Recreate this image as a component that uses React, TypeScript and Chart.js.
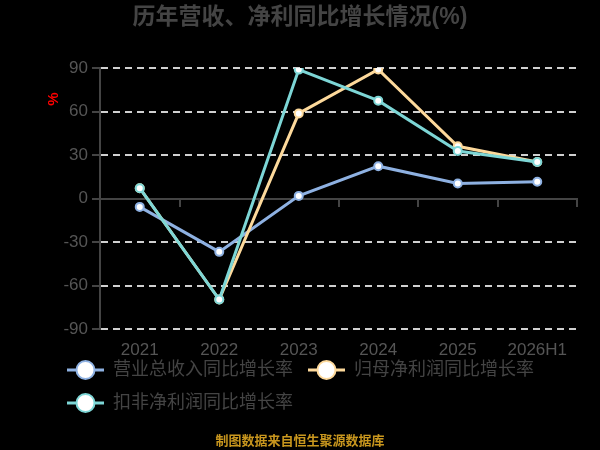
import React, { useEffect, useRef } from 'react';
import { Chart, registerables } from 'chart.js';

Chart.register(...registerables);

const FONT = '"Liberation Sans", "Noto Sans CJK SC", sans-serif';
Chart.defaults.font.family = FONT;

const chartTitle = '历年营收、净利同比增长情况(%)';
const footerText = '制图数据来自恒生聚源数据库';
const yAxisUnit = '%';

const categories = ['2021', '2022', '2023', '2024', '2025', '2026H1'];
const seriesNames = ['营业总收入同比增长率', '归母净利润同比增长率', '扣非净利润同比增长率'];
const revenueGrowth = [-5.8, -36.8, 1.8, 22.3, 10.3, 11.5];
const netProfitGrowth = [7.1, -69.7, 58.7, 89.0, 36.0, 25.2];
const deductedProfitGrowth = [7.1, -69.7, 88.9, 67.5, 32.8, 25.2];
const yTicks = [-90, -60, -30, 0, 30, 60, 90];

const seriesColors = ['#8eb1e2', '#fdd99b', '#7dd6d6'];

function makeLegendIcon(color: string): HTMLCanvasElement {
  const c = document.createElement('canvas');
  c.width = 37;
  c.height = 22;
  const g = c.getContext('2d')!;
  g.strokeStyle = color;
  g.lineWidth = 3;
  g.beginPath();
  g.moveTo(0, 11);
  g.lineTo(37, 11);
  g.stroke();
  g.beginPath();
  g.arc(18.5, 11, 9, 0, Math.PI * 2);
  g.fillStyle = '#ffffff';
  g.fill();
  g.lineWidth = 2;
  g.stroke();
  return c;
}

const overlayPlugin = {
  id: 'overlayTexts',
  afterDraw(chart: any) {
    const { ctx, chartArea, width, height } = chart;
    ctx.save();
    ctx.textAlign = 'center';
    ctx.textBaseline = 'middle';
    // title
    ctx.fillStyle = '#444444';
    ctx.font = `bold 23px ${FONT}`;
    ctx.fillText(chartTitle, width / 2, 18);
    // footer
    ctx.fillStyle = '#c8961e';
    ctx.font = `bold 13px ${FONT}`;
    ctx.fillText(footerText, width / 2, height - 9);
    // y unit
    ctx.translate(chartArea.left - 46, chartArea.top + 31);
    ctx.rotate(-Math.PI / 2);
    ctx.fillStyle = '#ff0000';
    ctx.font = `bold 15px ${FONT}`;
    ctx.fillText(yAxisUnit, 0, 0);
    ctx.restore();
  },
};

export default function App() {
  const ref = useRef<HTMLCanvasElement | null>(null);

  useEffect(() => {
    if (!ref.current) return;
    const values = [revenueGrowth, netProfitGrowth, deductedProfitGrowth];
    const icons = seriesColors.map(makeLegendIcon);
    const chart = new Chart(ref.current, {
      type: 'line',
      data: {
        labels: categories,
        datasets: values.map((d, i) => ({
          label: seriesNames[i],
          data: d,
          borderColor: seriesColors[i],
          backgroundColor: seriesColors[i],
          borderWidth: 3,
          pointRadius: 4,
          pointBorderWidth: 2,
          pointBackgroundColor: '#ffffff',
          pointBorderColor: seriesColors[i],
          tension: 0,
          order: 3 - i,
          xAxisID: 'x',
          yAxisID: 'y',
        })),
      },
      options: {
        animation: false,
        responsive: false,
        maintainAspectRatio: false,
        layout: { padding: { top: 68, left: 52, right: 23, bottom: 28 } },
        plugins: {
          title: { display: false },
          tooltip: { enabled: false },
          legend: {
            display: true,
            position: 'bottom',
            align: 'start',
            title: { display: true, text: '', padding: { top: 16, bottom: 0 }, font: { size: 1, lineHeight: 1 } },
            labels: {
              usePointStyle: true,
              pointStyleWidth: 37,
              boxHeight: 18,
              padding: 15,
              color: '#444444',
              font: { size: 18, family: FONT },
              generateLabels: (c: any) =>
                c.data.datasets.map((ds: any, i: number) => ({
                  text: ds.label,
                  fillStyle: seriesColors[i],
                  strokeStyle: seriesColors[i],
                  lineWidth: 0,
                  pointStyle: icons[i],
                  hidden: false,
                  datasetIndex: i,
                  fontColor: '#444444',
                })),
            },
          },
        },
        scales: {
          x: {
            type: 'category',
            offset: true,
            position: { y: 0 } as any,
            ticks: { display: false },
            grid: {
              offset: true,
              drawOnChartArea: false,
              drawTicks: true,
              tickLength: 7,
              tickColor: '#444444',
              lineWidth: 2,
            },
            border: { color: '#444444', width: 2 },
          },
          x2: {
            type: 'category',
            labels: categories,
            offset: true,
            position: { y: -90 } as any,
            grid: { display: false, drawTicks: false },
            border: { display: false },
            ticks: { color: '#555555', font: { size: 17, family: FONT }, padding: 11 },
          },
          y: {
            min: -90,
            max: 90,
            afterBuildTicks: (s: any) => {
              s.ticks = yTicks.map((v) => ({ value: v }));
            },
            afterFit: (s: any) => {
              s.width = 48;
            },
            ticks: { color: '#555555', font: { size: 17, family: FONT }, padding: 4 },
            grid: {
              color: (ctx: any) => (ctx.tick && ctx.tick.value === 0 ? '#444444' : '#d0d0d0'),
              lineWidth: 2,
              drawTicks: true,
              tickLength: 8,
              tickColor: '#444444',
            },
            border: {
              color: '#444444',
              width: 2,
              dash: (ctx: any) => (ctx.tick && ctx.tick.value !== 0 ? [7, 5] : []),
            },
          },
        },
      },
      plugins: [overlayPlugin],
    } as any);
    return () => chart.destroy();
  }, []);

  return (
    <div style={{ position: 'fixed', left: 0, top: 0, width: 600, height: 450, background: '#000000' }}>
      <canvas ref={ref} width={600} height={450} style={{ width: 600, height: 450, display: 'block' }} />
    </div>
  );
}
